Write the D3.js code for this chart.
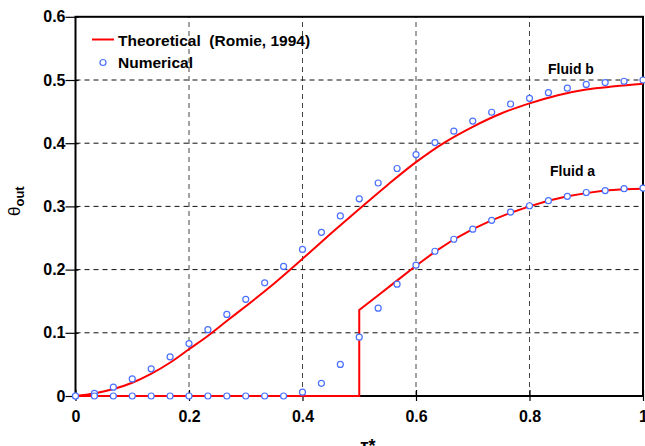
<!DOCTYPE html>
<html><head><meta charset="utf-8">
<script src="https://cdn.jsdelivr.net/npm/d3@7/dist/d3.min.js"></script>
<style>body{margin:0;background:#fff}svg{display:block}</style>
</head><body>
<script>
// ---- data ----
const tNum = d3.range(31).map(i => i / 30);
const numB = [0,0.004,0.014,0.027,0.043,0.062,0.083,0.105,0.129,0.153,0.179,0.205,0.232,0.259,0.285,0.312,0.337,0.360,0.382,0.401,0.419,0.435,0.449,0.462,0.471,0.480,0.487,0.493,0.496,0.498,0.500];
const numA = [0,0,0,0,0,0,0,0,0,0,0,0,0.006,0.020,0.050,0.093,0.139,0.177,0.207,0.229,0.248,0.264,0.278,0.291,0.301,0.309,0.316,0.322,0.325,0.328,0.329];
const theoBx = [0,0.033,0.067,0.1,0.133,0.167,0.2,0.233,0.267,0.3,0.35,0.4,0.45,0.5,0.55,0.6,0.65,0.7,0.75,0.8,0.85,0.9,0.95,1.0];
const theoBy = [0,0.004,0.011,0.021,0.035,0.053,0.074,0.095,0.119,0.142,0.178,0.217,0.257,0.296,0.334,0.370,0.401,0.426,0.447,0.463,0.476,0.485,0.490,0.494];
const theoAx = [0,0.5,0.5,0.533,0.567,0.6,0.633,0.667,0.7,0.733,0.767,0.8,0.833,0.867,0.9,0.933,0.967,1.0];
const theoAy = [0,0,0.136,0.159,0.183,0.206,0.228,0.248,0.264,0.278,0.290,0.300,0.309,0.316,0.321,0.325,0.327,0.328];
const xTicks = [0,0.2,0.4,0.6,0.8,1];
const yTicks = [0,0.1,0.2,0.3,0.4,0.5,0.6];
const xTickLabels = ["0","0.2","0.4","0.6","0.8","1"];
const yTickLabels = ["0","0.1","0.2","0.3","0.4","0.5","0.6"];

const W = 645, H = 446;
const svg = d3.select("body").append("svg").attr("width", W).attr("height", H);
const x = d3.scaleLinear().domain([0,1]).range([75.5,643]);
const y = d3.scaleLinear().domain([0,0.6]).range([396,16.8]);
const font = "'Liberation Sans', Arial, sans-serif";

// grid
svg.append("g").selectAll("line").data([0.2,0.4,0.6,0.8]).join("line")
  .attr("x1", d=>x(d)).attr("x2", d=>x(d)).attr("y1", y(0)).attr("y2", y(0.6))
  .attr("stroke","#444").attr("stroke-width",1).attr("stroke-dasharray","5,4");
svg.append("g").selectAll("line").data([0.1,0.2,0.3,0.4,0.5]).join("line")
  .attr("y1", d=>y(d)).attr("y2", d=>y(d)).attr("x1", x(0)).attr("x2", x(1))
  .attr("stroke","#111").attr("stroke-width",1).attr("stroke-dasharray","5,4");

// frame
svg.append("rect").attr("x", x(0)).attr("y", y(0.6)).attr("width", x(1)-x(0)).attr("height", y(0)-y(0.6))
  .attr("fill","none").attr("stroke","#000").attr("stroke-width",2);

// axes ticks
const yAxis = d3.axisLeft(y).tickValues(yTicks).tickSize(10).tickPadding(4)
  .tickFormat((d,i)=>yTickLabels[i]);
const gy = svg.append("g").attr("transform",`translate(${x(0)+3},0)`).call(yAxis);
gy.select(".domain").remove();
gy.selectAll(".tick line").attr("stroke","#000").attr("stroke-width",1.2).attr("x2",-13);
gy.selectAll(".tick text").attr("x",-13).attr("font-family",font).attr("font-weight","bold").attr("font-size","16px").attr("fill","#000");

const xAxis = d3.axisBottom(x).tickValues(xTicks).tickSize(5).tickPadding(10)
  .tickFormat((d,i)=>xTickLabels[i]);
const gx = svg.append("g").attr("transform",`translate(0,${y(0)})`).call(xAxis);
gx.select(".domain").remove();
gx.selectAll(".tick line").attr("stroke","#000").attr("stroke-width",1.2).attr("y1",-6).attr("y2",5);
gx.selectAll(".tick text").attr("font-family",font).attr("font-weight","bold").attr("font-size","16px").attr("fill","#000").attr("dy","0.75em").attr("y",14);

// theoretical lines
const lineB = d3.line().x((d,i)=>x(theoBx[i])).y(d=>y(d)).curve(d3.curveMonotoneX);
svg.append("path").datum(theoBy).attr("d", lineB).attr("fill","none").attr("stroke","#ff0000").attr("stroke-width",2);
const lineA = d3.line().x((d,i)=>x(theoAx[i])).y(d=>y(d));
svg.append("path").datum(theoAy).attr("d", lineA).attr("fill","none").attr("stroke","#ff0000").attr("stroke-width",2);

// numerical points
const blue = "#4a70ff";
[numB, numA].forEach(arr => {
  svg.append("g").selectAll("circle").data(arr).join("circle")
    .attr("cx",(d,i)=>x(tNum[i])).attr("cy",d=>y(d)).attr("r",3)
    .attr("fill","#fff").attr("stroke",blue).attr("stroke-width",1.2);
});

// labels
svg.append("text").attr("x",548).attr("y",74).text("Fluid b")
  .attr("font-family",font).attr("font-weight","bold").attr("font-size","14px");
svg.append("text").attr("x",550).attr("y",176).text("Fluid a")
  .attr("font-family",font).attr("font-weight","bold").attr("font-size","14px");

// legend
svg.append("line").attr("x1",92).attr("x2",114).attr("y1",39.5).attr("y2",39.5).attr("stroke","#ff0000").attr("stroke-width",2);
svg.append("text").attr("x",118).attr("y",45.5).attr("xml:space","preserve").text("Theoretical  (Romie, 1994)")
  .attr("font-family",font).attr("font-weight","bold").attr("font-size","15.5px");
svg.append("circle").attr("cx",103).attr("cy",62.5).attr("r",3).attr("fill","#fff").attr("stroke",blue).attr("stroke-width",1.2);
svg.append("text").attr("x",118).attr("y",68).text("Numerical")
  .attr("font-family",font).attr("font-weight","bold").attr("font-size","15.5px");

// axis titles
const yt = svg.append("text").attr("transform","translate(20,216) rotate(-90)")
  .attr("font-family",font).attr("font-size","17px").attr("fill","#000");
yt.append("tspan").text("θ");
yt.append("tspan").attr("dy",4).attr("font-size","13px").attr("font-weight","bold").text("out");

svg.append("text").attr("x",368).attr("y",452).attr("text-anchor","middle")
  .attr("font-family",font).attr("font-weight","bold").attr("font-size","18px").text("τ*");
</script>
</body></html>
